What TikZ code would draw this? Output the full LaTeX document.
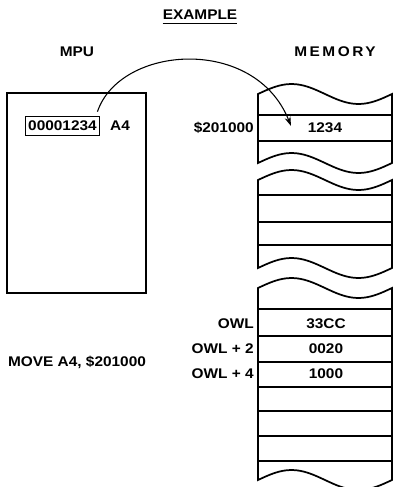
\documentclass[tikz,border=0pt]{standalone}
\usepackage{fontspec}
\setmainfont{Liberation Sans}[FakeStretch=1.1]
\usetikzlibrary{arrows.meta}

\begin{document}
\begin{tikzpicture}[x=0.75pt,y=-0.75pt,font=\bfseries\fontsize{10.5}{12}\selectfont,
  >={Stealth[length=7pt,width=4.5pt]},
  frame/.style={line width=1.3pt},
  txt/.style={inner sep=0pt},
  reg/.style={draw,line width=0.8pt,inner xsep=2.3pt,inner ysep=3.6pt}]
\useasboundingbox (0,0) rectangle (393,487);
% headings
\node[txt] (title) at (200,15) {EXAMPLE};
\draw[line width=0.7pt] ([yshift=-2.5pt]title.south west) -- ([yshift=-2.5pt]title.south east);
\node[txt] (mpu) at (77,52) {MPU};
\node[txt] (mem) at (335,52) {\addfontfeatures{LetterSpace=18}MEMORY};
% processor
\draw[frame] (7,93) rectangle (146,293);
\node[reg] (a4reg) at (62.5,126) {00001234};
\node[txt] (a4) at (120,126) {A4};
\node[txt] (instr) at (77,362) {MOVE A4, \$201000};
% memory, three pieces
\draw[frame] (258,94) sin (291.5,84) cos (325,94) sin (358.5,104) cos (392,94) -- (392,163)
  sin (358.5,173) cos (325,163) sin (291.5,153) cos (258,163) -- cycle;
\foreach \y in {115,141} \draw[frame] (258,\y) -- (392,\y);
\draw[frame] (258,180) sin (291.5,170) cos (325,180) sin (358.5,190) cos (392,180) -- (392,268)
  sin (358.5,278) cos (325,268) sin (291.5,258) cos (258,268) -- cycle;
\foreach \y in {195,222,245} \draw[frame] (258,\y) -- (392,\y);
\draw[frame] (258,288) sin (291.5,278) cos (325,288) sin (358.5,298) cos (392,288) -- (392,480)
  sin (358.5,490) cos (325,480) sin (291.5,470) cos (258,480) -- cycle;
\foreach \y in {309,336,362,387,411,436,461} \draw[frame] (258,\y) -- (392,\y);
% addresses and contents
\node[txt,anchor=east] (adr) at (254,128) {\$201000};
\node[txt] (v1234) at (325,128) {1234};
\node[txt,anchor=east] (owl) at (254,324) {OWL};
\node[txt,anchor=east] (owl2) at (254,349) {OWL + 2};
\node[txt,anchor=east] (owl4) at (254,374) {OWL + 4};
\node[txt] (v33cc) at (326,324) {33CC};
\node[txt] (v0020) at (326,349) {0020};
\node[txt] (v1000) at (326,374) {1000};
% the move
\coordinate (tip) at (291,126);
\draw[->,line width=0.8pt] ([xshift=-2.2pt,yshift=3pt]a4reg.north east) .. controls (120,45) and (255,35) .. (tip);
\end{tikzpicture}
\end{document}
